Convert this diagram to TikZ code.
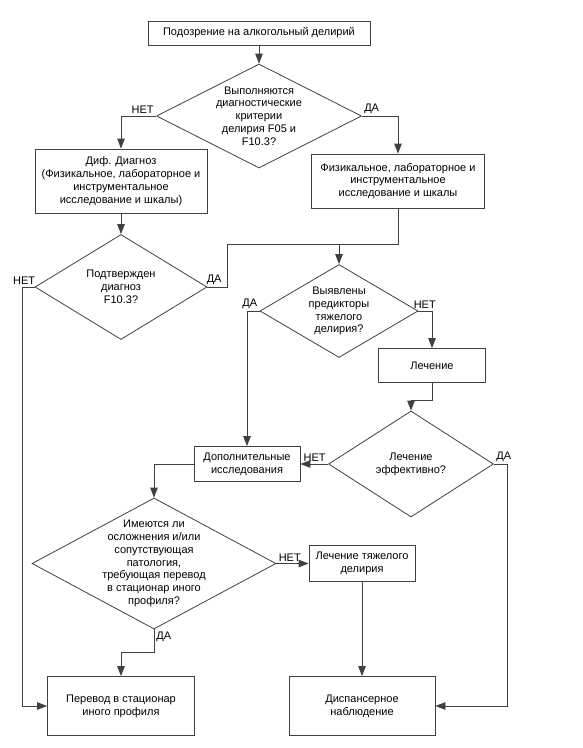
\documentclass[tikz,border=0pt]{standalone}
\usepackage{fontspec}
\setmainfont{Liberation Sans}
\usepackage{tikz}
\usetikzlibrary{shapes.geometric, arrows, arrows.meta}
\usetikzlibrary{positioning}
\tikzstyle{process} = [rectangle, draw=black!75, line width=0.8pt, align=center, inner sep=2pt]
\tikzstyle{decision} = [diamond, draw=black!75, line width=0.8pt, inner sep=0pt]
\tikzstyle{txt} = [align=center, inner sep=0pt]
\tikzstyle{arrow} = [line width=0.8pt, draw=black!75, -{Triangle[length=10pt,width=7.5pt]}]
\tikzstyle{line} = [line width=0.8pt, draw=black!75]
\tikzstyle{lbl} = [inner sep=2pt]

\begin{document}
\begin{tikzpicture}[font=\fontsize{11}{12.8}\selectfont]
\useasboundingbox (0,0) rectangle (583pt,-748pt);
% boxes and decisions
\node (start) [process, minimum width=222pt, minimum height=24pt] at (259pt,-33pt) {Подозрение на алкогольный делирий};
\node (d1) [decision, minimum width=205pt, minimum height=104pt, node distance=83pt, below of=start] {};
\node (d1t) [txt] at (d1) {Выполняются\\диагностические\\критерии\\делирия F05 и\\F10.3?};
\node (diff) [process, minimum width=172pt, minimum height=64pt, node distance=65pt, below of=d1, xshift=-138pt] {Диф. Диагноз\\(Физикальное, лабораторное и\\инструментальное\\исследование и шкалы)};
\node (phys) [process, minimum width=173pt, minimum height=54pt, node distance=65pt, below of=d1, xshift=139pt] {Физикальное, лабораторное и\\инструментальное\\исследование и шкалы};
\node (d2) [decision, minimum width=172pt, minimum height=105pt, node distance=106pt, below of=diff] {};
\node (d2t) [txt] at (d2) {Подтвержден\\диагноз\\F10.3?};
\node (d3) [decision, minimum width=158pt, minimum height=93pt, node distance=130pt, below of=phys, xshift=-59pt] {};
\node (d3t) [txt] at (d3) {Выявлены\\предикторы\\тяжелого\\делирия?};
\node (treat) [process, minimum width=107pt, minimum height=34pt, node distance=54.5pt, below of=d3, xshift=93pt] {Лечение};
\node (d4) [decision, minimum width=165pt, minimum height=106pt, node distance=98.5pt, below of=treat, xshift=-21pt] {};
\node (d4t) [txt] at (d4) {Лечение\\эффективно?};
\node (extra) [process, minimum width=106pt, minimum height=35pt, node distance=164pt, left of=d4] {Дополнительные\\исследования};
\node (d5) [decision, minimum width=244pt, minimum height=131pt, node distance=99.5pt, below of=extra, xshift=-93pt] {};
\node (d5t) [txt] at (d5) {Имеются ли\\осложнения и/или\\сопутствующая\\патология,\\требующая перевод\\в стационар иного\\профиля?};
\node (severe) [process, minimum width=106pt, minimum height=36pt, node distance=208pt, right of=d5] {Лечение тяжелого\\делирия};
\node (transfer) [process, minimum width=147pt, minimum height=59pt, node distance=142.5pt, below of=d5, xshift=-33pt] {Перевод в стационар\\иного профиля};
\node (dispans) [process, minimum width=146pt, minimum height=59pt, node distance=241pt, right of=transfer] {Диспансерное\\наблюдение};

% connectors
\draw [arrow] (start) -- (d1);
\draw [arrow] (d1.west) node [lbl, above left] {НЕТ} -| (diff.north);
\draw [arrow] (d1.east) node [lbl, above right] {ДА} -| (phys.north);
\draw [arrow] (diff) -- (d2);
\draw [arrow] (d2.west) node [lbl, above left, xshift=3pt] {НЕТ} -- ++(-12.7pt,0) |- (transfer.west);
\draw [line] (phys.south) -- ++(0,-36pt) coordinate (merge) -| ([xshift=20pt]d2.east) -- (d2.east) node [lbl, above right, xshift=-3pt] {ДА};
\draw [arrow] (merge -| d3.north) -- (d3.north);
\draw [arrow] (d3.west) node [lbl, above left] {ДА} -| (extra.north);
\draw [arrow] (d3.east) node [lbl, above right, xshift=-7pt] {НЕТ} -| (treat.north);
\draw [arrow] (treat.south) -- ++(0,-17.3pt) -| (d4.north);
\draw [arrow] (d4.west) node [lbl, above left] {НЕТ} -- (extra.east);
\draw [arrow] (d4.east) node [lbl, above right] {ДА} -- ++(13.4pt,0) |- (dispans.east);
\draw [arrow] (extra.west) -| (d5.north);
\draw [arrow] (d5.east) node [lbl, above right] {НЕТ} -- (severe.west);
\draw [arrow] (severe) -- (dispans);
\draw [arrow] (d5.south) node [lbl, below right] {ДА} -- ++(0,-23.3pt) -| (transfer.north);
\end{tikzpicture}
\end{document}
